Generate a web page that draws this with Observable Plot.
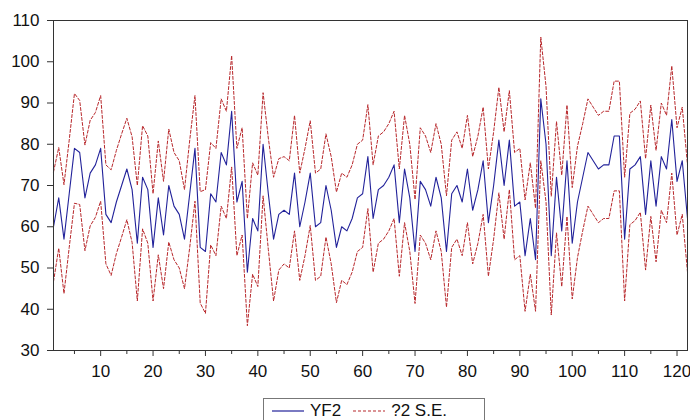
<!DOCTYPE html>
<html>
<head>
<meta charset="utf-8">
<script src="https://cdn.jsdelivr.net/npm/d3@7"></script>
<script src="https://cdn.jsdelivr.net/npm/@observablehq/plot@0.6"></script>
<style>
  html, body { margin: 0; padding: 0; background: #fff; }
  body { width: 690px; height: 420px; position: relative; overflow: hidden; font-family: "Liberation Sans", Arial, sans-serif; }
  #legend { position: absolute; left: 263px; top: 398px; width: 222px; height: 30px; border: 1px solid #777; box-sizing: border-box; display: flex; align-items: flex-start; padding-top: 2px; font-size: 17px; color: #111; }
  #legend .item { display: flex; align-items: center; margin-left: 8px; }
  #legend svg { margin-right: 6px; }
</style>
</head>
<body>
<div id="chart"></div>
<div id="legend"></div>
<script>
const seriesNames = ["YF2", "?2 S.E."];
const obs = d3.range(1, 123);
const yf2 = [
  60, 67, 57, 68, 79, 78, 67, 73, 75, 79,
  63, 61, 66, 70, 74, 69, 56, 72, 69, 55,
  67, 58, 70, 65, 63, 57, 68, 79, 55, 54,
  68, 66, 78, 75, 88, 66, 71, 49, 62, 59,
  80, 68, 57, 63, 64, 63, 73, 60, 66, 73,
  60, 61, 70, 64, 55, 60, 59, 62, 67, 68,
  77, 62, 69, 70, 72, 75, 61, 74, 67, 54,
  71, 69, 65, 72, 67, 54, 68, 70, 66, 74,
  64, 69, 76, 61, 70, 81, 70, 81, 65, 66,
  53, 62, 52, 91, 80, 53, 72, 59, 76, 56,
  66, 72, 78, 76, 74, 75, 75, 82, 82, 57,
  74, 75, 77, 63, 76, 65, 77, 74, 86, 71,
  76, 62
];
const se2 = [
  13.3, 12.2, 13.2, 13, 13.3, 12.6, 12.8, 12.8, 12.7, 12.8,
  12, 12.8, 12.5, 12.5, 12.3, 12.8, 14, 12.5, 13, 13,
  13.8, 13, 13.7, 13, 13, 12, 13, 12.8, 13.5, 15,
  12.4, 13, 13, 13, 13.5, 13, 13, 13, 13.5, 13.5,
  12.5, 13.5, 15, 13.5, 13, 13, 14, 13, 13, 12.7,
  13, 13, 12.5, 13, 13.4, 13, 13, 13, 13, 13,
  12.6, 13, 13, 13, 13, 13, 13, 13, 13, 12.6,
  13, 13, 13, 13, 13, 13.5, 13, 13, 13, 13,
  13, 13, 13, 13, 13, 12.8, 13, 12, 13, 13,
  13.5, 13.5, 12.5, 15, 14, 14.4, 13.5, 13.5, 13.5, 13.5,
  13.5, 13, 13, 13, 13, 13, 13, 13.3, 13.3, 15,
  13.5, 13.5, 13.5, 13.5, 13.5, 13.5, 13, 13, 13, 13,
  13, 13
];
const xTicks = [10, 20, 30, 40, 50, 60, 70, 80, 90, 100, 110, 120];
const xMinorTicks = [5, 15, 25, 35, 45, 55, 65, 75, 85, 95, 105, 115];
const yTicks = [30, 40, 50, 60, 70, 80, 90, 100, 110];

const blue = "#22229a";
const red = "#b8282c";

const rows = obs.map((t, i) => ({t, yf2: yf2[i], upper: yf2[i] + se2[i], lower: yf2[i] - se2[i]}));

const chart = Plot.plot({
  width: 690,
  height: 390,
  marginLeft: 53,
  marginRight: 3,
  marginTop: 20,
  marginBottom: 40,
  style: {fontFamily: "'Liberation Sans', Arial, sans-serif", fontSize: "17px", color: "#111", background: "#fff"},
  x: {domain: [1, 122], label: null},
  y: {domain: [30, 110], label: null},
  marks: [
    Plot.axisY({ticks: yTicks, tickSize: 6, tickPadding: 8, fontSize: 17, stroke: "#333", label: null}),
    Plot.axisX({ticks: xTicks, tickSize: 6, tickPadding: 8, fontSize: 17, stroke: "#333", label: null}),
    Plot.axisX({ticks: xMinorTicks, tickSize: 4, tickFormat: () => "", stroke: "#333", label: null}),
    Plot.line(rows, {x: "t", y: "upper", stroke: red, strokeWidth: 1, strokeDasharray: "3,2"}),
    Plot.line(rows, {x: "t", y: "lower", stroke: red, strokeWidth: 1, strokeDasharray: "3,2"}),
    Plot.line(rows, {x: "t", y: "yf2", stroke: blue, strokeWidth: 1.1}),
    Plot.frame({stroke: "#333"})
  ]
});
document.getElementById("chart").appendChild(chart);

const legend = document.getElementById("legend");
legend.innerHTML =
  `<span class="item"><svg width="32" height="10"><line x1="0" y1="5" x2="32" y2="5" stroke="${blue}" stroke-width="1.2"/></svg>${seriesNames[0]}</span>` +
  `<span class="item" style="margin-left:12px"><svg width="32" height="10"><line x1="0" y1="5" x2="32" y2="5" stroke="${red}" stroke-width="1.2" stroke-dasharray="3,2"/></svg>${seriesNames[1]}</span>`;
</script>
</body>
</html>
